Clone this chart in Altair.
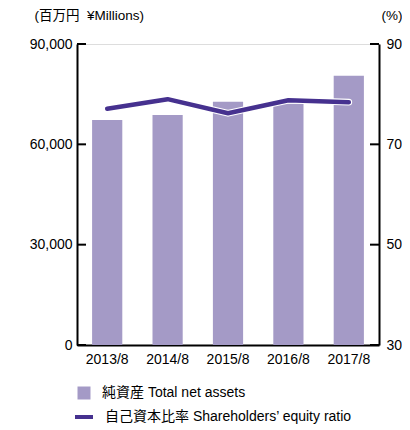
import altair as alt
import pandas as pd

years = ["2013/8", "2014/8", "2015/8", "2016/8", "2017/8"]
net_assets = [67300, 68800, 72700, 72200, 80500]
equity_ratio = [77.1, 79.0, 76.2, 78.8, 78.4]
left_ticks = [0, 30000, 60000, 90000]
right_ticks = [30, 50, 70, 90]
bar_name = "純資産 Total net assets"
line_name = "自己資本比率 Shareholders’ equity ratio"

BAR_COLOR = "#a49ac6"
LINE_COLOR = "#46318f"
FONT = "Liberation Sans, Noto Sans CJK JP"
W, H = 302, 301

df = pd.DataFrame({
    "year": years,
    "assets": net_assets,
    "ratio": equity_ratio,
    "bar_label": [bar_name] * len(years),
    "line_label": [line_name] * len(years),
})
lt = pd.DataFrame({"assets": left_ticks})
rt = pd.DataFrame({"ratio": right_ticks})

x_enc = alt.X(
    "year:N", sort=years,
    scale=alt.Scale(paddingInner=0.5, paddingOuter=0.25),
    axis=alt.Axis(title=None, labelAngle=0, ticks=False, domainWidth=2,
                  domainColor="black", labelFontSize=14, labelPadding=7,
                  labelColor="black"),
)

y_left_scale = alt.Scale(domain=[0, 90000])
y_right_scale = alt.Scale(domain=[30, 90])

left_axis = alt.Axis(values=left_ticks, format=",d", title="(百万円\u00a0\u00a0¥Millions)",
                     titleAngle=0, titleX=-43, titleY=-29, titleAlign="left",
                     titleBaseline="middle", titleFontWeight="normal", titleFontSize=13.5,
                     titleColor="black",
                     grid=False, ticks=False, labelPadding=5, domainWidth=2,
                     domainColor="black", labelFontSize=14, labelColor="black")

right_axis = alt.Axis(orient="right", values=right_ticks, title="(%)",
                      titleAngle=0, titleX=2, titleY=-29, titleAlign="left",
                      titleBaseline="middle", titleFontWeight="normal", titleFontSize=13.5,
                      titleColor="black",
                      grid=False, ticks=False, labelPadding=7, domainWidth=2,
                      domainColor="black", labelFontSize=14, labelColor="black")

bars = alt.Chart(df).mark_bar().encode(
    x=x_enc,
    y=alt.Y("assets:Q", scale=y_left_scale, axis=left_axis),
    fill=alt.Fill("bar_label:N", scale=alt.Scale(range=[BAR_COLOR]),
                  legend=alt.Legend(orient="none", legendX=0, legendY=342, title=None,
                                    symbolType="square", symbolSize=169, symbolStrokeWidth=0,
                                    labelFontSize=14, labelOffset=11, padding=0,
                                    labelLimit=400,
                                    labelColor="black", symbolOpacity=1)),
)

lticks = alt.Chart(lt).mark_rule(color="black", strokeWidth=2).encode(
    y=alt.Y("assets:Q", scale=y_left_scale, axis=left_axis),
    x=alt.value(0), x2=alt.value(9),
)

outline = alt.Chart(df).mark_line(color="white", strokeWidth=6.8, strokeCap="round",
                                   strokeJoin="round").encode(
    x=alt.X("year:N", sort=years),
    y=alt.Y("ratio:Q", scale=y_right_scale, axis=right_axis),
)

line = alt.Chart(df).mark_line(strokeWidth=4.5, strokeCap="round", strokeJoin="round").encode(
    x=alt.X("year:N", sort=years),
    y=alt.Y("ratio:Q", scale=y_right_scale, axis=right_axis),
    stroke=alt.Stroke("line_label:N", scale=alt.Scale(range=[LINE_COLOR]),
                      legend=alt.Legend(orient="none", legendX=-4, legendY=362, title=None,
                                        symbolType="stroke", symbolSize=324,
                                        symbolStrokeWidth=4, labelFontSize=14,
                                        labelOffset=10, padding=0, labelLimit=400,
                                        labelColor="black")),
)

rticks = alt.Chart(rt).mark_rule(color="black", strokeWidth=2).encode(
    y=alt.Y("ratio:Q", scale=y_right_scale, axis=right_axis),
    x=alt.value(W - 9), x2=alt.value(W),
)

left = alt.layer(bars, lticks)
right = alt.layer(outline, line, rticks)

chart = alt.layer(left, right).resolve_scale(y="independent").properties(
    width=W, height=H,
    padding={"left": 69, "top": 36, "right": 23, "bottom": 80},
    autosize=alt.AutoSizeParams(type="none"),
).configure_view(stroke=None).configure(font=FONT)

chart.save("out.html", embed_options={"renderer": "svg", "actions": False})
